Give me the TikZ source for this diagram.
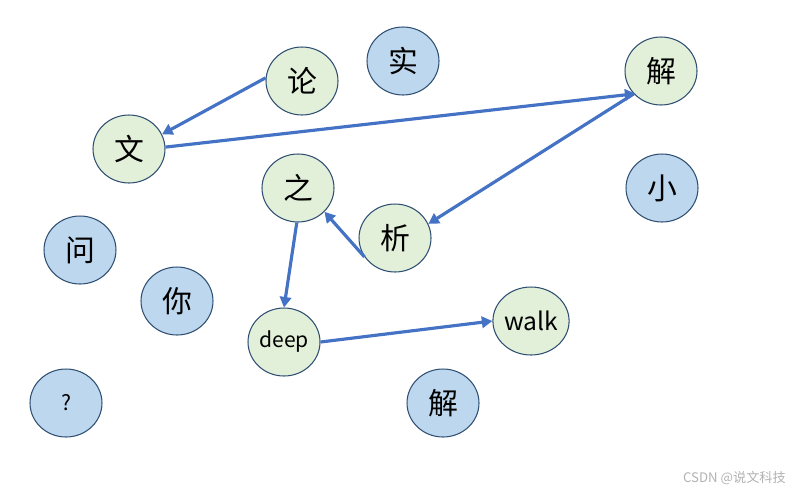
\documentclass[tikz,border=0pt]{standalone}
\usepackage{fontspec}
\setmainfont{Noto Sans CJK SC}
\usetikzlibrary{shapes.geometric,arrows.meta}
\definecolor{leaf}{HTML}{E2EFD9}
\definecolor{sky}{HTML}{BDD7EE}
\definecolor{rim}{HTML}{2F4F72}
\definecolor{link}{HTML}{4472C4}
\tikzset{
  word/.style={ellipse, draw=rim, line width=0.6pt, minimum width=1.44cm, minimum height=1.36cm, inner sep=0pt, font=\fontsize{17}{17}\selectfont},
  used/.style={word, fill=leaf},
  spare/.style={word, fill=sky},
  hop/.style={draw=link, line width=1.8pt, -{Triangle[length=6pt,width=6.5pt]}}
}
\begin{document}
\begin{tikzpicture}[x=0.02cm, y=-0.02cm]
  \useasboundingbox (0,0) rectangle (800,491);
  % green words, the ones on the walk
  \node[used] (lun) at (302,81) {论};
  \node[used] (wen) at (129,149) {文};
  \node[used] (jie) at (661,71) {解};
  \node[used] (zhi) at (298,188) {之};
  \node[used] (xi) at (395,238) {析};
  \node[used, font=\fontsize{12}{12}\selectfont] (deep) at (284,342) {deep};
  \node[used, font=\fontsize{14}{14}\selectfont] (walk) at (531,321) {walk};
  % blue words, left out
  \node[spare] (shi) at (403,61) {实};
  \node[spare] (xiao) at (662,188) {小};
  \node[spare] (wenq) at (80,250) {问};
  \node[spare] (ni) at (177,301) {你};
  \node[spare, font=\fontsize{12}{12}\selectfont] (ask) at (66,403) {?};
  \node[spare] (jieb) at (443,403) {解};

  % the walk
  \draw[hop] (lun.175) -- (wen.24);
  \draw[hop, shorten >=-1pt] (wen.3) -- (jie.220);
  \draw[hop] (jie.220) -- (xi.23);
  \draw[hop] (xi.212) -- (zhi.318);
  \draw[hop] (zhi.268) -- (deep.north);
  \draw[hop] (deep.east) -- (walk.west);

  % watermark
  \node[text=black!30, font=\fontsize{7.5}{7.5}\selectfont, anchor=east] (mark) at (792,478) {CSDN @说文科技};
\end{tikzpicture}
\end{document}
